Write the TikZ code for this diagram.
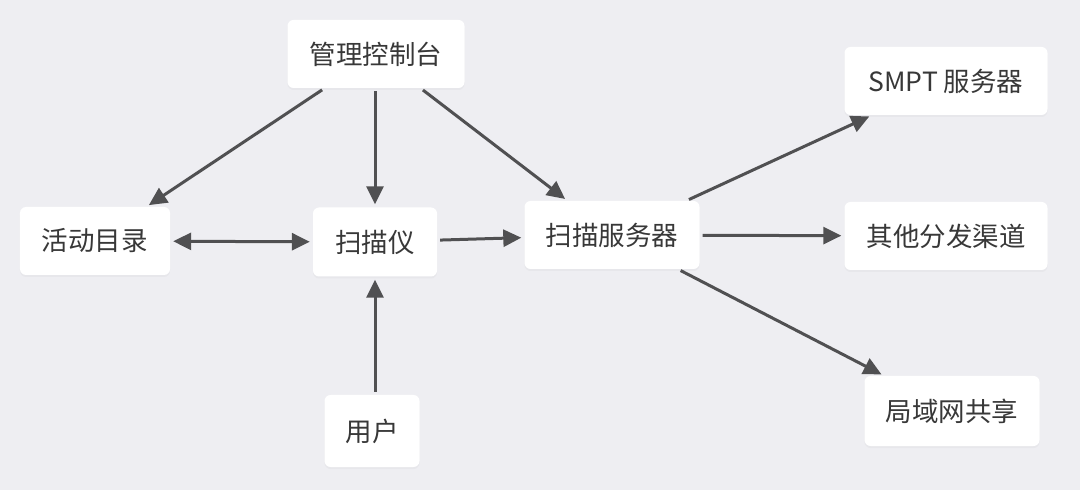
\documentclass[tikz,border=0pt]{standalone}
\usepackage{fontspec}
\newfontfamily\cjk{Noto Sans CJK SC}
\usetikzlibrary{arrows.meta,shadows}
\definecolor{bgc}{HTML}{EEEEF2}
\definecolor{linec}{HTML}{505052}
\definecolor{txtc}{HTML}{383838}
\tikzset{
  box/.style={draw=none, fill=white, rounded corners=6bp, inner sep=0pt,
    font=\cjk\fontsize{26.5bp}{30bp}\selectfont, text=txtc,
    drop shadow={opacity=0.06, shadow xshift=0bp, shadow yshift=-2bp}},
  conn/.style={draw=linec, line width=3bp, -{Triangle[length=18bp,width=17bp]},
    shorten >=3bp, shorten <=3bp},
  biconn/.style={conn, {Triangle[length=18bp,width=17bp]}-{Triangle[length=18bp,width=17bp]}}
}
\begin{document}
\begin{tikzpicture}[x=1bp,y=-1bp]
\fill[bgc] (0,0) rectangle (1080,490);
\useasboundingbox (0,0) rectangle (1080,490);
\node[box, minimum width=177bp, minimum height=68bp] (mgmt) at (376,54) {管理控制台};
\node[box, minimum width=150bp, minimum height=68bp] (ad) at (95,241) {活动目录};
\node[box, minimum width=124bp, minimum height=69bp] (scan) at (375,242) {扫描仪};
\node[box, minimum width=175bp, minimum height=68bp] (srv) at (612,235) {扫描服务器};
\node[box, minimum width=203bp, minimum height=68bp] (smtp) at (946,81) {SMPT 服务器};
\node[box, minimum width=203bp, minimum height=68bp] (other) at (946,236) {其他分发渠道};
\node[box, minimum width=175bp, minimum height=70bp] (lan) at (952,411) {局域网共享};
\node[box, minimum width=95bp, minimum height=72bp] (user) at (372,431) {用户};

\draw[conn] (mgmt) -- (ad);
\draw[conn] (mgmt.south -| scan) -- (scan);
\draw[conn] (mgmt) -- (srv);
\draw[biconn] (ad) -- (scan);
\draw[conn] (scan) -- (srv);
\draw[conn] (srv) -- (smtp);
\draw[conn] (srv) -- (other);
\draw[conn] (srv) -- (lan);
\draw[conn] (user.north -| scan) -- (scan);
\end{tikzpicture}
\end{document}
